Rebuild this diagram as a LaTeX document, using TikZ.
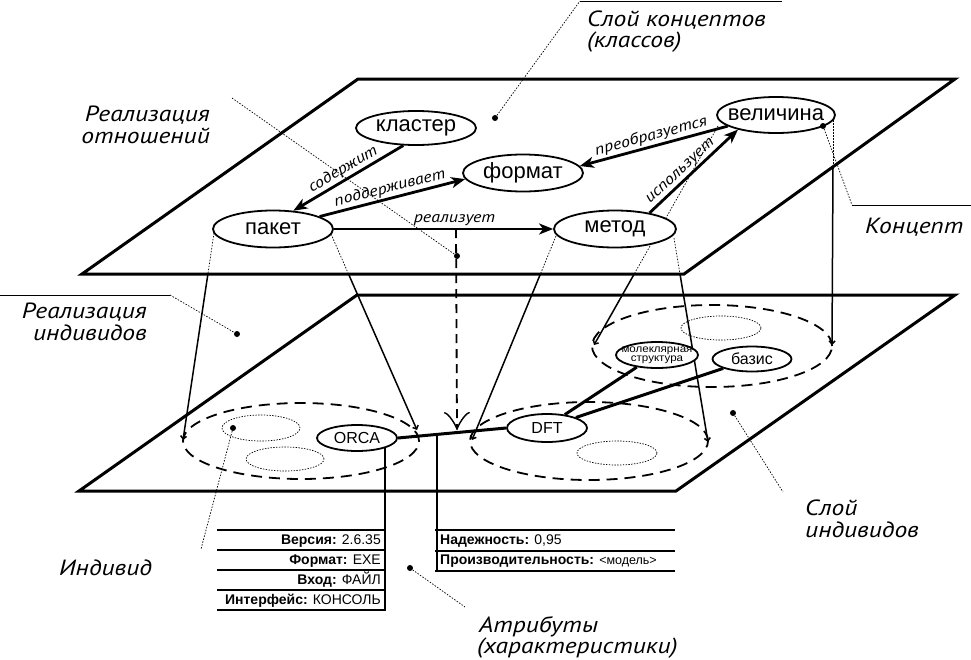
\documentclass[tikz,border=0pt]{standalone}
\usepackage{fontspec}
\setmainfont{Liberation Sans}
\newfontfamily\itfont{PT Sans}[FakeStretch=1.16]
\usetikzlibrary{arrows.meta,shapes.geometric,calc}
\pgfdeclarelayer{bg}
\pgfsetlayers{bg,main}
\newcommand\zb[1]{\makebox[0pt]{#1}}
\begin{document}
\begin{tikzpicture}[x=1pt,y=-1pt,
  plane/.style={line width=3pt, line join=miter},
  concept/.style={ellipse, draw, line width=1.8pt, fill=white, inner sep=0pt, font=\fontsize{22}{22}\selectfont},
  indiv/.style={ellipse, draw, line width=1.8pt, fill=white, inner sep=0pt, font=\fontsize{16}{16}\selectfont},
  grp/.style={ellipse, draw, line width=1.8pt, dash pattern=on 11pt off 7pt, inner sep=0pt},
  sub/.style={ellipse, draw, line width=0.7pt, dash pattern=on 1.4pt off 1.4pt, inner sep=0pt},
  rel/.style={line width=2.8pt, -{Stealth[length=14pt,width=11pt,inset=4pt]}},
  rlab/.style={font=\itfont\itshape\fontsize{15.5}{15.5}\selectfont, sloped, above, inner sep=1.5pt},
  conehid/.style={line width=0.7pt, dash pattern=on 1.5pt off 1.5pt},
  conevis/.style={line width=1.5pt, -{Straight Barb[length=3pt,width=6pt]}},
  lead/.style={line width=0.7pt, dash pattern=on 1.5pt off 1.5pt},
  leadsolid/.style={line width=0.8pt},
  dotm/.style={circle, fill, inner sep=0pt, minimum size=6pt},
  big/.style={font=\itfont\itshape\fontsize{22}{22}\selectfont, inner sep=0pt},
  link/.style={line width=3pt},
  impl/.style={line width=1.8pt, dash pattern=on 9pt off 6pt, -{Classical TikZ Rightarrow[length=18pt,width=26pt]}},
  tab/.style={line width=2pt},
  tabtxt/.style={font=\fontsize{14}{14}\selectfont, inner sep=0pt, text height=10pt, text depth=3pt}
]
\useasboundingbox (0,0) rectangle (971,659);

% planes
\draw[plane] (82,274) -- (358,79) -- (955,79) -- (684,274) -- cycle;
\draw[plane] (79,491) -- (357,295) -- (955,295) -- (676,491) -- cycle;

% group ellipses (individual sets)
\node[grp, minimum width=236pt, minimum height=76pt] (gL) at (301,441) {};
\node[grp, minimum width=238pt, minimum height=78pt] (gR) at (589,441) {};
\node[grp, minimum width=240pt, minimum height=82pt] (gV) at (712,346) {};
\node[sub, minimum width=78pt, minimum height=26pt] (s1) at (261,428) {};
\node[sub, minimum width=78pt, minimum height=24pt] (s2) at (285,459) {};
\node[sub, minimum width=80pt, minimum height=24pt] (s3) at (617,453) {};
\node[sub, minimum width=80pt, minimum height=24pt] (s4) at (721,328) {};

% concept nodes
\node[concept, minimum width=120pt, minimum height=34pt] (kl) at (416,128) {\zb{кластер}};
\node[concept, minimum width=120pt, minimum height=37pt] (fmt) at (523,173) {\zb{формат}};
\node[concept, minimum width=120pt, minimum height=37pt] (pak) at (273,229) {\zb{пакет}};
\node[concept, minimum width=122pt, minimum height=37pt] (met) at (615,229) {\zb{метод}};
\node[concept, minimum width=118pt, minimum height=36pt] (vel) at (776,115) {\zb{величина}};

% individual nodes
\node[indiv, minimum width=80pt, minimum height=26pt] (orca) at (357,438) {\zb{ORCA}};
\node[indiv, minimum width=80pt, minimum height=28pt] (dft) at (547,428) {\zb{DFT}};
\node[indiv, minimum width=82pt, minimum height=26pt] (mol) at (657,355)
  {\zb{\scalebox{1.1}[1]{\fontsize{10.5}{8.5}\selectfont\shortstack{молеклярная\\[-1.5pt]структура}}}};
\node[indiv, minimum width=79pt, minimum height=25pt] (bas) at (752,359) {\zb{базис}};

% cone line coordinates
\coordinate (pLt) at (214,233); \coordinate (pLc) at (207.9,274); \coordinate (pLb) at (183,440);
\coordinate (pRt) at (331,234); \coordinate (pRc) at (348.5,274); \coordinate (pRb) at (417,430);
\coordinate (mLt) at (556,236); \coordinate (mLc) at (540.4,274); \coordinate (mLb) at (472,440);
\coordinate (mRt) at (674,238); \coordinate (mRc) at (680,274); \coordinate (mRb) at (708,442);
\coordinate (vLt) at (718,126); \coordinate (vLc) at (634.2,274); \coordinate (vLb) at (594,345);
\coordinate (vRt) at (833,120); \coordinate (vRc) at (833,166.8); \coordinate (vRb) at (832,345);

\begin{pgfonlayer}{bg}
  \foreach \c in {pL,pR,mL,mR,vL,vR}{
    \draw[conehid] (\c t) -- (\c c);
    \draw[conevis] (\c c) -- (\c b);
  }
  % leaders
  \coordinate (lkA) at (580,1);
  \coordinate (lkB) at (782,1);
  \node[dotm] (dk) at (495,118) {};
  \draw[lead] (dk) -- (lkA);
  \draw[leadsolid] (lkA) -- (lkB);

  \coordinate (roA) at (232,98);
  \node[dotm] (dro) at (457,256) {};
  \draw[lead] (roA) -- (dro);

  \coordinate (riA) at (0,295);
  \coordinate (riB) at (170,295);
  \node[dotm] (dri) at (237,334) {};
  \draw[leadsolid] (riA) -- (riB);
  \draw[lead] (riB) -- (dri);

  \coordinate (kcA) at (852,205);
  \coordinate (kcB) at (971,205);
  \coordinate (kcD) at (823,126);
  \draw[lead] (kcD) -- (kcA);
  \draw[leadsolid] (kcA) -- (kcB);

  \node[dotm] (dsi) at (733,413) {};
  \coordinate (siA) at (783,492);
  \draw[lead] (dsi) -- (siA);

  \node[dotm] (dat) at (410,568) {};
  \coordinate (atA) at (465,607);
  \draw[lead] (dat) -- (atA);

  \node[dotm] (din) at (233,428) {};
  \coordinate (inA) at (201,549);
  \draw[lead] (din) -- (inA);
\end{pgfonlayer}
\node[dotm] (dkc) at (kcD) {};

% realisation arrow
\coordinate (rz) at ($(pak.east)!0.557!(met.west)$);
\coordinate (rzEnd) at (457,430);
\draw[impl] (rz) -- (rzEnd);

% relations
\draw[rel] (kl.234) -- node[rlab]{содержит} (pak.42);
\draw[rel] (pak.15) -- node[rlab]{поддерживает} (fmt.186);
\draw[rel] (pak.east) -- node[rlab, pos=.55]{реализует} (met.west);
\draw[rel] (vel.193) -- node[rlab]{преобразуется} (fmt.7);
\draw[rel] (met.25) -- node[rlab, pos=.42]{использует} (vel.201);

% individual links
\draw[link] (orca.east) -- (dft.west);
\draw[link] (dft.37) -- (mol.211);
\draw[link] (dft.20) -- (bas.198);

% attribute tables
\coordinate (tLtop) at (385,447);
\coordinate (tLbot) at (385,610);
\draw[tab] (tLtop) -- (tLbot);
\foreach \yy in {530,550,570,590,610}{
  \draw[tab] (217,\yy) -- (386,\yy);
}
\node[tabtxt, anchor=east] (a1) at (381,540.5) {\textbf{Версия:} 2.6.35};
\node[tabtxt, anchor=east] (a2) at (381,560.5) {\textbf{Формат:} EXE};
\node[tabtxt, anchor=east] (a3) at (381,580.5) {\textbf{Вход:} ФАЙЛ};
\node[tabtxt, anchor=east] (a4) at (381,600.5) {\textbf{Интерфейс:} КОНСОЛЬ};

\coordinate (tRtop) at ($(orca.east)!0.357!(dft.west)$);
\coordinate (tRbot) at (436,571);
\draw[tab] (tRtop) -- (tRtop |- tRbot);
\foreach \yy in {530,551,571}{
  \draw[tab] (435,\yy) -- (675,\yy);
}
\node[tabtxt, anchor=west] (b1) at (440,540.5) {\textbf{Надежность:} 0,95};
\node[tabtxt, anchor=west] (b2) at (440,561) {\textbf{Производительность:} {\fontsize{12.5}{12.5}\selectfont<модель>}};

% big italic labels
\node[big, anchor=base west] (t1) at (587,26) {Слой концептов};
\node[big, anchor=base west] (t2) at (587,47) {(классов)};
\node[big, anchor=base east] (t3) at (210,121) {Реализация};
\node[big, anchor=base east] (t4) at (210,143) {отношений};
\node[big, anchor=base east] (t5) at (147,318) {Реализация};
\node[big, anchor=base east] (t6) at (147,340) {индивидов};
\node[big, anchor=base west] (t7) at (865,233) {Концепт};
\node[big, anchor=base west] (t8) at (805,515) {Слой};
\node[big, anchor=base west] (t9) at (805,537) {индивидов};
\node[big, anchor=base west] (t10) at (59,575) {Индивид};
\node[big, anchor=base west] (t11) at (479,632) {Атрибуты};
\node[big, anchor=base west] (t12) at (477,653) {(характеристики)};
\end{tikzpicture}
\end{document}
